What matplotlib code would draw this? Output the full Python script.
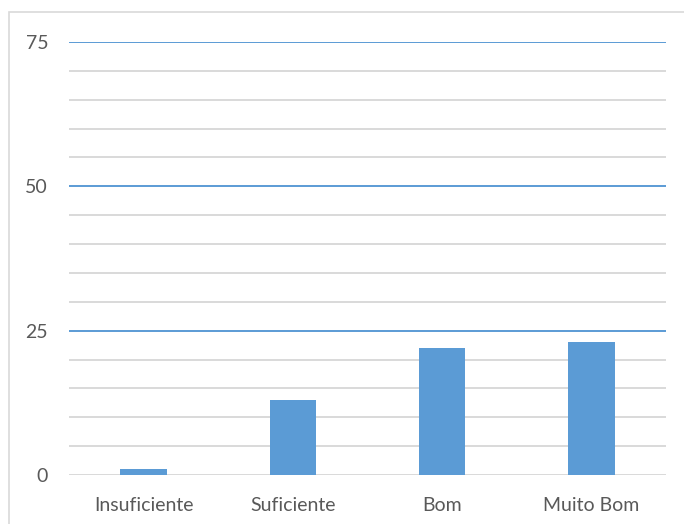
import matplotlib.pyplot as plt
from matplotlib.patches import Rectangle
import numpy as np

categories = ["Insuficiente", "Suficiente", "Bom", "Muito Bom"]
values = [1, 13, 22, 23]
major_ticks = [0, 25, 50, 75]
minor_ticks = [5, 10, 15, 20, 30, 35, 40, 45, 55, 60, 65, 70]

BAR = "#5B9BD5"
MINOR = "#D9D9D9"
TEXT = "#595959"

plt.rcParams["font.family"] = ["Lato", "DejaVu Sans"]

W, H = 684, 524
fig = plt.figure(figsize=(W / 100, H / 100), dpi=100)
ax = fig.add_axes([69 / W, 49 / H, (666 - 69) / W, (475 - 42) / H])

# chart area border (only top/left inside the crop)
fig.patches.append(Rectangle((9 / W, -0.1), 1.0, (H - 12) / H + 0.1,
                             transform=fig.transFigure, fill=False,
                             edgecolor="#D9D9D9", linewidth=1.2))

x = np.arange(len(categories))
ax.bar(x, values, width=0.31, color=BAR, zorder=3)

for v in minor_ticks:
    ax.axhline(v, color=MINOR, linewidth=1.4, zorder=1)
for v in major_ticks[1:]:
    ax.axhline(v, color=BAR, linewidth=1.4, zorder=2)
ax.axhline(0, color=MINOR, linewidth=1.4, zorder=2)

ax.set_xlim(-0.5, len(categories) - 0.5)
ax.set_ylim(0, 75)
ax.set_yticks(major_ticks)
ax.set_xticks(x)
ax.set_xticklabels(categories)
ax.tick_params(length=0, labelsize=14, colors=TEXT)
ax.tick_params(axis="y", pad=15)
ax.tick_params(axis="x", pad=16)
for s in ax.spines.values():
    s.set_visible(False)

fig.savefig("out.png", dpi=100)
